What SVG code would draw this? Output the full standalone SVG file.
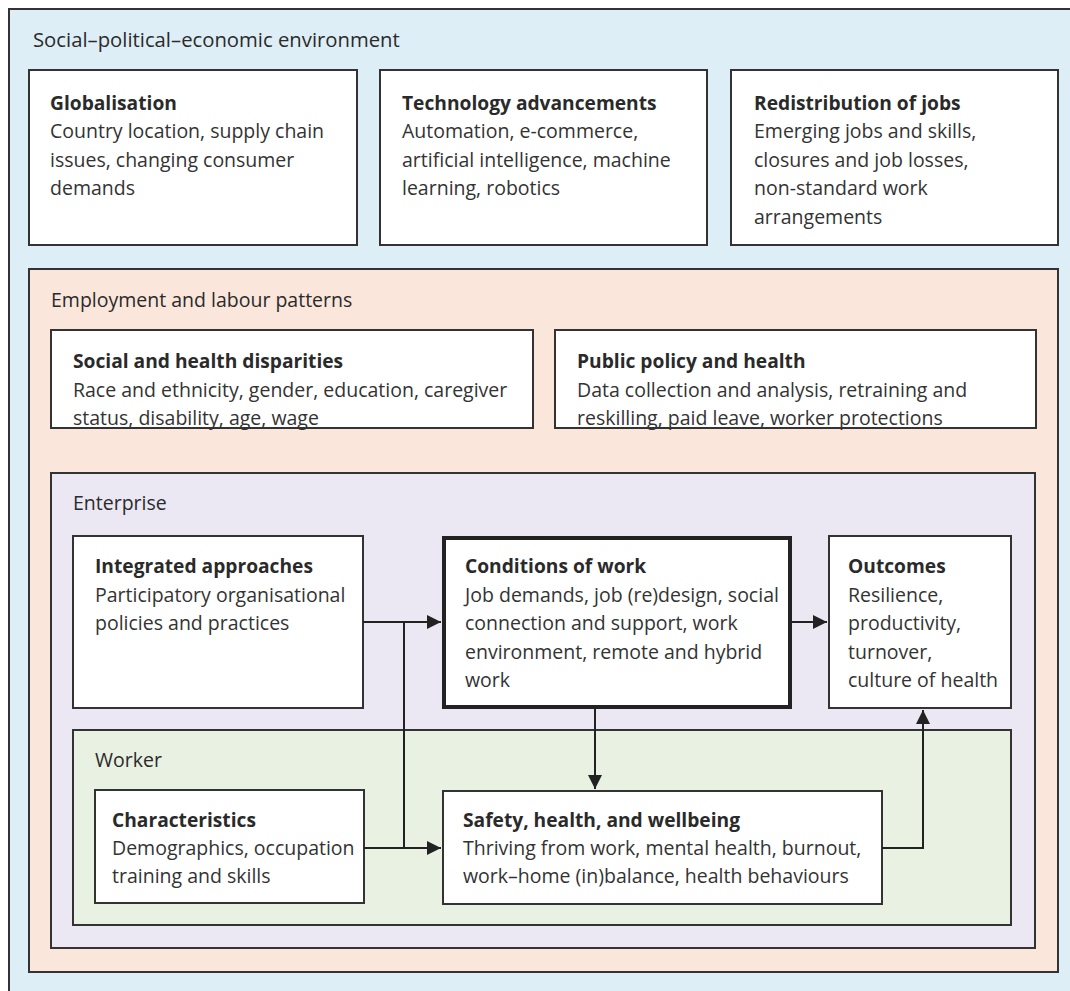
<svg xmlns="http://www.w3.org/2000/svg" width="1070" height="991" viewBox="0 0 1070 991">
<defs>
<style>
.frame{stroke:#333;stroke-width:2}
.box{fill:#fff;stroke:#333;stroke-width:2}
.thick{fill:#fff;stroke:#222;stroke-width:4}
text{font-family:"Open Sans","Noto Sans",sans-serif;fill:#333;font-size:19.5px}
.t{font-weight:bold;fill:#2a2a2a;font-size:19.2px}
.h{font-size:19.5px;fill:#2a2a2a}
.c{fill:none;stroke:#222;stroke-width:2}
</style>
<marker id="arr" viewBox="0 0 10 10" refX="10" refY="5" markerWidth="7" markerHeight="7" markerUnits="strokeWidth" orient="auto">
<path d="M0,0 L10,5 L0,10 z" fill="#222"/>
</marker>
</defs>
<rect width="1070" height="991" fill="#fff"/>
<g id="environment">
<rect x="9" y="9" width="1070" height="990" fill="#deeef6" class="frame"/>
<text x="33" y="47" class="h" style="font-size:20.3px">Social–political–economic environment</text>
</g>
<g id="globalisation">
<rect x="29" y="70" width="328" height="175" class="box"/>
<text x="50" y="110" class="t">Globalisation</text>
<text x="50" y="138">Country location, supply chain</text>
<text x="50" y="167">issues, changing consumer</text>
<text x="50" y="195">demands</text>
</g>
<g id="technology">
<rect x="380" y="70" width="327" height="175" class="box"/>
<text x="402" y="110" class="t">Technology advancements</text>
<text x="402" y="138">Automation, e-commerce,</text>
<text x="402" y="167">artificial intelligence, machine</text>
<text x="402" y="195">learning, robotics</text>
</g>
<g id="redistribution">
<rect x="731" y="70" width="327" height="175" class="box"/>
<text x="754" y="110" class="t">Redistribution of jobs</text>
<text x="754" y="138">Emerging jobs and skills,</text>
<text x="754" y="167">closures and job losses,</text>
<text x="754" y="195">non-standard work</text>
<text x="754" y="224">arrangements</text>
</g>
<g id="employment">
<rect x="29" y="269" width="1029" height="703" fill="#fbe6dc" class="frame"/>
<text x="51" y="307" class="h">Employment and labour patterns</text>
</g>
<g id="disparities">
<rect x="51" y="330" width="482" height="98" class="box"/>
<text x="73" y="368" class="t">Social and health disparities</text>
<text x="73" y="397">Race and ethnicity, gender, education, caregiver</text>
<text x="73" y="425">status, disability, age, wage</text>
</g>
<g id="policy">
<rect x="555" y="330" width="481" height="98" class="box"/>
<text x="577" y="368" class="t">Public policy and health</text>
<text x="577" y="397">Data collection and analysis, retraining and</text>
<text x="577" y="425">reskilling, paid leave, worker protections</text>
</g>
<g id="enterprise">
<rect x="51" y="473" width="984" height="475" fill="#ebe8f4" class="frame"/>
<text x="73" y="510" class="h">Enterprise</text>
</g>
<g id="worker">
<rect x="73" y="730" width="938" height="195" fill="#e8f1e2" class="frame"/>
<text x="95" y="767" class="h">Worker</text>
</g>
<g id="integrated">
<rect x="73" y="536" width="290" height="172" class="box"/>
<text x="95" y="573" class="t">Integrated approaches</text>
<text x="95" y="602">Participatory organisational</text>
<text x="95" y="630">policies and practices</text>
</g>
<g id="conditions">
<rect x="444" y="538" width="346" height="169" class="thick"/>
<text x="465" y="573" class="t">Conditions of work</text>
<text x="465" y="602">Job demands, job (re)design, social</text>
<text x="465" y="630">connection and support, work</text>
<text x="465" y="659">environment, remote and hybrid</text>
<text x="465" y="687">work</text>
</g>
<g id="outcomes">
<rect x="829" y="536" width="182" height="172" class="box"/>
<text x="848" y="573" class="t">Outcomes</text>
<text x="848" y="602">Resilience,</text>
<text x="848" y="630">productivity,</text>
<text x="848" y="659">turnover,</text>
<text x="848" y="687">culture of health</text>
</g>
<g id="characteristics">
<rect x="95" y="790" width="269" height="113" class="box"/>
<text x="112" y="827" class="t">Characteristics</text>
<text x="112" y="855">Demographics, occupation</text>
<text x="112" y="883">training and skills</text>
</g>
<g id="safety">
<rect x="443" y="791" width="439" height="113" class="box"/>
<text x="463" y="827" class="t">Safety, health, and wellbeing</text>
<text x="463" y="855">Thriving from work, mental health, burnout,</text>
<text x="463" y="883">work–home (in)balance, health behaviours</text>
</g>
<g id="connectors">
<path d="M363,622 H441" class="c" marker-end="url(#arr)"/>
<path d="M404,622 V848" class="c"/>
<path d="M364,848 H441" class="c" marker-end="url(#arr)"/>
<path d="M792,622 H827" class="c" marker-end="url(#arr)"/>
<path d="M595,709 V789" class="c" marker-end="url(#arr)"/>
<path d="M882,848 H923 V710" class="c" marker-end="url(#arr)"/>
</g>
</svg>
